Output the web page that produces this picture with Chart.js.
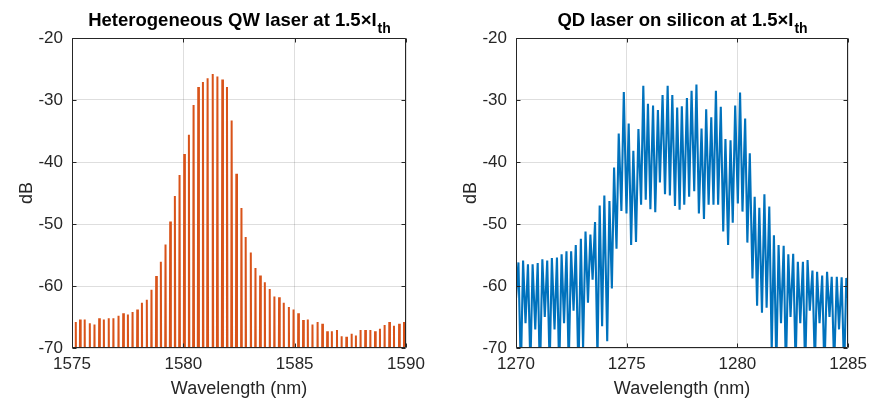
<!DOCTYPE html>
<html>
<head>
<meta charset="utf-8">
<script src="https://cdn.jsdelivr.net/npm/chart.js@4.4.1/dist/chart.umd.min.js"></script>
<style>
  html, body { margin: 0; padding: 0; background: #fff; }
  #wrap { position: relative; width: 873px; height: 403px; }
  .panel { position: absolute; top: 0; }
</style>
</head>
<body>
<div id="wrap">
  <div class="panel" style="left:0"><canvas id="qw" width="436" height="403"></canvas></div>
  <div class="panel" style="left:436px"><canvas id="qd" width="437" height="403"></canvas></div>
</div>
<script>
// QW laser: longitudinal mode positions (nm) and peak powers (dB)
const qwWavelength = [
  1574.99, 1575.17, 1575.36, 1575.57, 1575.80, 1576.01, 1576.22, 1576.43, 1576.65, 1576.86,
  1577.09, 1577.30, 1577.51, 1577.72, 1577.93, 1578.14, 1578.36, 1578.57, 1578.78, 1578.99,
  1579.20, 1579.41, 1579.62, 1579.83, 1580.04, 1580.25, 1580.46, 1580.67, 1580.88, 1581.09,
  1581.32, 1581.53, 1581.75, 1581.96, 1582.17, 1582.38, 1582.61, 1582.80, 1583.03, 1583.24,
  1583.45, 1583.66, 1583.88, 1584.09, 1584.30, 1584.51, 1584.74, 1584.95, 1585.16, 1585.38,
  1585.59, 1585.80, 1586.03, 1586.24, 1586.46, 1586.67, 1586.90, 1587.11, 1587.32, 1587.56,
  1587.75, 1587.96, 1588.17, 1588.40, 1588.61, 1588.83, 1589.04, 1589.25, 1589.46, 1589.69,
  1589.91
];
const qwPeakDb = [
  -67.7, -65.8, -65.4, -65.4, -66.0, -66.2, -65.2, -65.4, -65.2, -65.2,
  -64.8, -64.4, -64.6, -64.2, -63.8, -62.7, -62.2, -60.6, -58.4, -56.1,
  -53.3, -49.6, -45.5, -42.1, -38.7, -35.6, -30.8, -27.9, -27.1, -26.5,
  -25.8, -26.2, -26.7, -27.9, -33.3, -41.9, -47.4, -52.1, -54.6, -57.1,
  -58.3, -59.4, -60.5, -61.7, -61.8, -62.7, -63.4, -63.8, -64.4, -65.5,
  -65.4, -66.2, -65.8, -66.1, -67.3, -67.3, -67.1, -68.1, -68.2, -67.7,
  -68.0, -67.1, -67.1, -67.1, -67.3, -66.9, -66.3, -65.8, -66.4, -66.1,
  -65.8
];
// level between the QW modes, below the bottom of the axis
const qwFloorDb = -90;
const qwModeHalfWidth = 0.03;

// QD laser trace: alternating maxima / minima (nm, dB)
const qdWavelength = [
  1270.00, 1270.11, 1270.22, 1270.32, 1270.43, 1270.54, 1270.65, 1270.75, 1270.87, 1270.98,
  1271.08, 1271.19, 1271.30, 1271.41, 1271.52, 1271.62, 1271.74, 1271.85, 1271.95, 1272.06,
  1272.17, 1272.28, 1272.38, 1272.49, 1272.60, 1272.70, 1272.82, 1272.93, 1273.03, 1273.14,
  1273.25, 1273.36, 1273.46, 1273.57, 1273.68, 1273.78, 1273.89, 1273.99, 1274.12, 1274.22,
  1274.33, 1274.43, 1274.54, 1274.64, 1274.76, 1274.87, 1274.99, 1275.09, 1275.20, 1275.30,
  1275.42, 1275.53, 1275.65, 1275.75, 1275.86, 1275.96, 1276.07, 1276.19, 1276.29, 1276.41,
  1276.50, 1276.62, 1276.73, 1276.85, 1276.95, 1277.06, 1277.18, 1277.28, 1277.39, 1277.49,
  1277.60, 1277.72, 1277.82, 1277.93, 1278.05, 1278.15, 1278.26, 1278.38, 1278.49, 1278.59,
  1278.70, 1278.82, 1278.92, 1279.03, 1279.13, 1279.25, 1279.36, 1279.46, 1279.58, 1279.69,
  1279.79, 1279.90, 1280.02, 1280.12, 1280.23, 1280.35, 1280.45, 1280.56, 1280.68, 1280.78,
  1280.89, 1280.99, 1281.11, 1281.22, 1281.32, 1281.44, 1281.55, 1281.65, 1281.76, 1281.86,
  1281.97, 1282.09, 1282.19, 1282.30, 1282.40, 1282.52, 1282.63, 1282.73, 1282.84, 1282.96,
  1283.06, 1283.17, 1283.27, 1283.39, 1283.50, 1283.60, 1283.71, 1283.83, 1283.93, 1284.05,
  1284.16, 1284.26, 1284.37, 1284.49, 1284.59, 1284.71, 1284.82, 1284.92, 1285.00
];
const qdDb = [
  -62, -56.2, -74, -55.9, -66, -56.5, -73, -56.5, -67, -56.3,
  -75, -55.7, -65, -55.9, -73, -55.5, -67, -55.4, -74, -54.9,
  -66, -54.4, -73, -54.4, -64, -53.4, -74, -52.4, -70, -51.2,
  -62.7, -51.7, -59.0, -49.7, -72, -47.0, -66.5, -45.4, -68.9, -46.3,
  -60.4, -40.9, -54.0, -35.4, -47.9, -28.7, -48.3, -33.8, -53.4, -38.2,
  -52.9, -34.7, -46.9, -27.7, -46.1, -30.6, -47.6, -30.9, -48.1, -31.6,
  -43.3, -29.2, -45.2, -27.7, -45.4, -29.2, -47.1, -31.2, -47.7, -31.0,
  -46.9, -29.7, -45.6, -28.5, -44.7, -27.5, -48.3, -34.6, -49.2, -31.5,
  -46.9, -32.8, -46.9, -28.5, -46.9, -31.1, -51.2, -36.3, -53.4, -36.5,
  -49.8, -30.9, -46.7, -28.8, -48.0, -33.0, -53.0, -38.6, -58.8, -45.6,
  -63.2, -47.4, -64.3, -45.2, -63.5, -47.2, -70.5, -51.8, -73, -53.4,
  -66, -53.5, -74, -54.9, -65, -54.8, -73, -56.1, -66, -56.1,
  -74, -55.8, -64, -57.5, -73, -57.7, -66, -58.3, -74, -57.7,
  -65, -58.5, -73, -58.5, -67, -58.6, -74, -58.7, -62
];

const yTicks = [-70, -60, -50, -40, -30, -20];
const FONT = "'Liberation Sans', Arial, Helvetica, sans-serif";
const AXIS_COLOR = '#262626';

// each QW mode is a narrow spike rising from the floor
const qwPoints = [];
qwWavelength.forEach((wl, i) => {
  qwPoints.push({ x: wl - qwModeHalfWidth, y: qwFloorDb });
  qwPoints.push({ x: wl, y: qwPeakDb[i] });
  qwPoints.push({ x: wl + qwModeHalfWidth, y: qwFloorDb });
});
const qdPoints = qdWavelength.map((wl, i) => ({ x: wl, y: qdDb[i] }));

// box around the axes, inward tick marks, and a title with subscript
const matlabAxes = {
  id: 'matlabAxes',
  afterDatasetsDraw(chart) {
    const { ctx, chartArea: a, scales: { x, y } } = chart;
    const L = Math.round(a.left) + 0.5, R = Math.round(a.right) - 0.5;
    const T = Math.round(a.top) + 0.5, B = Math.round(a.bottom) - 0.5;
    ctx.save();
    ctx.strokeStyle = AXIS_COLOR;
    ctx.lineWidth = 1;
    ctx.beginPath();
    ctx.rect(L, T, R - L, B - T);
    x.ticks.forEach(t => {
      const px = Math.round(x.getPixelForValue(t.value)) + 0.5;
      ctx.moveTo(px, B); ctx.lineTo(px, B - 4);
      ctx.moveTo(px, T); ctx.lineTo(px, T + 4);
    });
    y.ticks.forEach(t => {
      const py = Math.round(y.getPixelForValue(t.value)) + 0.5;
      ctx.moveTo(L, py); ctx.lineTo(L + 4, py);
      ctx.moveTo(R, py); ctx.lineTo(R - 4, py);
    });
    ctx.stroke();
    ctx.restore();
  },
  afterDraw(chart, args, opts) {
    const { ctx, chartArea: a } = chart;
    const big = 'bold 18.5px ' + FONT, small = 'bold 14px ' + FONT;
    ctx.save();
    ctx.fillStyle = '#000';
    ctx.textBaseline = 'alphabetic';
    ctx.font = big;
    const w1 = ctx.measureText(opts.text).width;
    ctx.font = small;
    const w2 = ctx.measureText(opts.sub).width;
    const x0 = (a.left + a.right) / 2 - (w1 + w2) / 2;
    ctx.font = big;
    ctx.fillText(opts.text, x0, 26);
    ctx.font = small;
    ctx.fillText(opts.sub, x0 + w1 + 1, 33);
    ctx.restore();
  }
};

function makeChart(canvasId, cfg) {
  return new Chart(document.getElementById(canvasId), {
    type: 'line',
    data: {
      datasets: [{
        data: cfg.points,
        borderColor: cfg.color,
        borderWidth: cfg.lineWidth,
        pointRadius: 0,
        tension: 0,
        fill: false,
        clip: 0
      }]
    },
    options: {
      responsive: false,
      animation: false,
      parsing: false,
      layout: { padding: { left: 0, top: 38, right: cfg.padRight, bottom: 0 } },
      scales: {
        x: {
          type: 'linear',
          min: cfg.xMin,
          max: cfg.xMax,
          afterBuildTicks: s => { s.ticks = cfg.xTicks.map(v => ({ value: v })); },
          afterFit: s => { s.height = 403 - 38 - 310; },
          border: { display: false },
          grid: { color: 'rgba(0,0,0,0.13)', drawTicks: false },
          ticks: {
            color: AXIS_COLOR,
            font: { family: FONT, size: 17 },
            padding: 6,
            maxRotation: 0,
            callback: v => String(v)
          },
          title: {
            display: true,
            text: 'Wavelength (nm)',
            color: AXIS_COLOR,
            font: { family: FONT, size: 18 },
            padding: { top: 0, bottom: 3 }
          }
        },
        y: {
          type: 'linear',
          min: -70,
          max: -20,
          afterBuildTicks: s => { s.ticks = yTicks.map(v => ({ value: v })); },
          afterFit: s => { s.width = cfg.plotLeft; },
          border: { display: false },
          grid: { color: 'rgba(0,0,0,0.13)', drawTicks: false },
          ticks: {
            color: AXIS_COLOR,
            font: { family: FONT, size: 17 },
            padding: 9,
            callback: v => String(v)
          },
          title: {
            display: true,
            text: 'dB',
            color: AXIS_COLOR,
            font: { family: FONT, size: 18 },
            padding: { top: cfg.yTitlePad, bottom: 0 }
          }
        }
      },
      plugins: {
        legend: { display: false },
        tooltip: { enabled: false },
        matlabAxes: { text: cfg.title, sub: 'th' }
      }
    },
    plugins: [matlabAxes]
  });
}

makeChart('qw', {
  points: qwPoints,
  color: '#D95319',
  lineWidth: 2,
  xMin: 1575, xMax: 1590,
  xTicks: [1575, 1580, 1585, 1590],
  plotLeft: 72,
  padRight: 30,
  yTitlePad: 16,
  title: 'Heterogeneous QW laser at 1.5×I'
});

makeChart('qd', {
  points: qdPoints,
  color: '#0072BD',
  lineWidth: 2.1,
  xMin: 1270, xMax: 1285,
  xTicks: [1270, 1275, 1280, 1285],
  plotLeft: 80,
  padRight: 24,
  yTitlePad: 24,
  title: 'QD laser on silicon at 1.5×I'
});
</script>
</body>
</html>
